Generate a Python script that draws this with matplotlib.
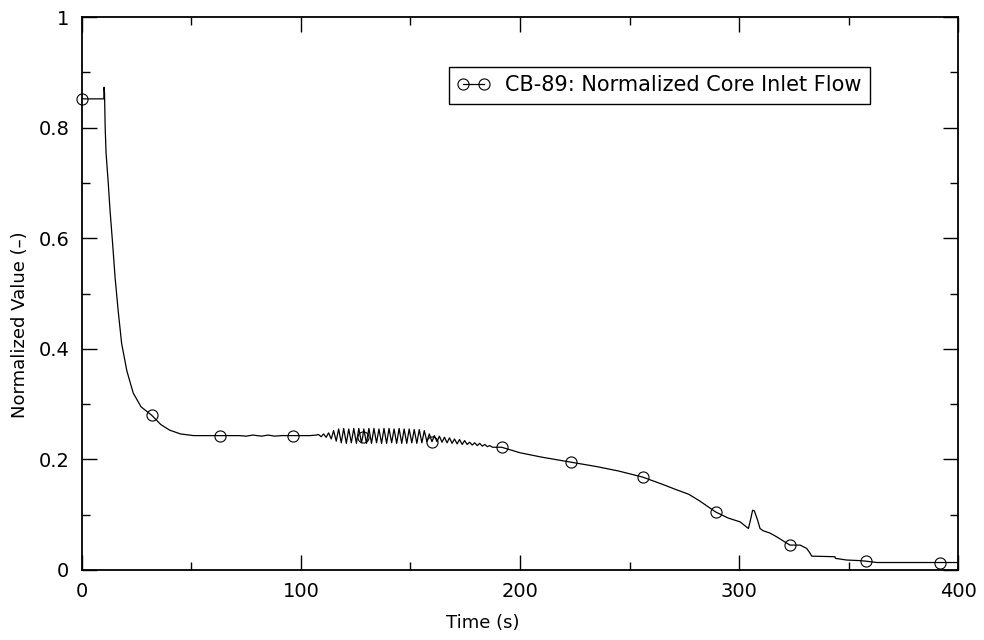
import numpy as np
import matplotlib.pyplot as plt
from matplotlib.ticker import MultipleLocator

# Normalized core inlet flow
# start-up, drop and flat part (s, -)
t_start = [0.0, 9.9, 10.0, 10.1, 10.3, 10.6, 11.0, 12.0, 12.8, 14.0, 15.1, 16.5,
           18.1, 20.5, 23.4, 27.0, 31.8, 36.0, 40.0, 45.0, 51.0, 63.0, 72.0,
           75.0, 78.0, 82.0, 85.0, 88.0, 91.0, 96.2, 100.0, 104.0, 107.0]
y_start = [0.852, 0.852, 0.852, 0.873, 0.862, 0.800, 0.754, 0.700, 0.651, 0.590,
           0.530, 0.470, 0.410, 0.360, 0.320, 0.295, 0.280, 0.263, 0.253, 0.246,
           0.243, 0.243, 0.243, 0.242, 0.244, 0.242, 0.244, 0.242, 0.243, 0.243,
           0.243, 0.243, 0.244]

# oscillating part, peaks and troughs
t_osc = [108.0, 109.2, 110.3, 111.5, 112.6, 113.8, 114.9, 116.1, 117.2, 118.4,
         119.5, 120.7, 121.8, 123.0, 124.1, 125.3, 126.4, 127.6, 128.2, 128.7, 129.9,
         131.0, 132.2, 133.3, 134.5, 135.6, 136.8, 137.9, 139.1, 140.2, 141.4,
         142.5, 143.7, 144.8, 146.0, 147.1, 148.3, 149.4, 150.6, 151.7, 152.9,
         154.0, 155.2, 156.3, 157.5, 158.6, 159.8, 160.9, 162.1, 163.2, 164.4,
         165.5, 166.7, 167.8, 169.0, 170.1, 171.3, 172.4, 173.6, 174.7, 175.9,
         177.0, 178.2, 179.3, 180.5, 181.6, 182.8, 183.9, 185.1, 186.2, 187.4]
y_osc = [0.245, 0.241, 0.246, 0.240, 0.248, 0.237, 0.252, 0.233, 0.255, 0.230,
         0.256, 0.229, 0.255, 0.230, 0.256, 0.229, 0.256, 0.230, 0.241, 0.255, 0.229,
         0.256, 0.229, 0.256, 0.230, 0.255, 0.229, 0.256, 0.229, 0.256, 0.230,
         0.255, 0.229, 0.256, 0.229, 0.255, 0.229, 0.255, 0.230, 0.254, 0.229,
         0.254, 0.230, 0.252, 0.232, 0.246, 0.232, 0.243, 0.232, 0.242, 0.231,
         0.240, 0.230, 0.239, 0.229, 0.237, 0.228, 0.236, 0.227, 0.234, 0.227,
         0.231, 0.226, 0.230, 0.225, 0.229, 0.224, 0.227, 0.223, 0.225, 0.222]

# decline and tail
t_end = [191.6, 200.0, 210.0, 223.3, 235.0, 245.0, 256.0, 265.0, 271.5, 277.0,
         282.0, 289.3, 295.0, 300.5, 304.3, 305.5, 306.2, 307.0, 308.5, 309.6,
         311.0, 314.0, 317.2, 320.0, 323.3, 327.9, 330.9, 332.5, 333.2, 343.8,
         344.0, 349.2, 355.0, 357.8, 363.0, 391.8, 400.0]
y_end = [0.222, 0.212, 0.204, 0.195, 0.187, 0.179, 0.168, 0.155, 0.145, 0.137,
         0.125, 0.105, 0.094, 0.087, 0.075, 0.095, 0.108, 0.107, 0.090, 0.075,
         0.071, 0.067, 0.060, 0.053, 0.045, 0.045, 0.039, 0.030, 0.025, 0.024,
         0.021, 0.018, 0.017, 0.016, 0.0135, 0.0135, 0.0135]

# times where the circle markers sit
marker_times = [0.0, 31.8, 63.0, 96.2, 128.2, 159.8, 191.6, 223.3, 256.0,
                289.3, 323.3, 357.8, 391.8]

label = "CB-89: Normalized Core Inlet Flow"
ytick_labels = ['0', '0.2', '0.4', '0.6', '0.8', '1']

t = np.array(t_start + t_osc + t_end)
y = np.array(y_start + y_osc + y_end)
mark_idx = [int(np.argmin(np.abs(t - mt))) for mt in marker_times]

plt.rcParams['font.family'] = ['DejaVu Sans']
plt.rcParams['font.size'] = 13

fig = plt.figure(figsize=(9.84, 6.4), dpi=100)
ax = fig.add_axes([0.0833, 0.1094, 0.8903, 0.864])

ax.plot(t, y, color='black', linewidth=0.9, marker='o', markersize=8,
        markerfacecolor='none', markeredgewidth=0.8, markevery=mark_idx,
        clip_on=False, label=label)

ax.set_xlim(0, 400)
ax.set_ylim(0, 1)
ax.xaxis.set_major_locator(MultipleLocator(100))
ax.xaxis.set_minor_locator(MultipleLocator(50))
ax.set_yticks(np.arange(0, 1.01, 0.2))
ax.set_yticklabels(ytick_labels)
ax.yaxis.set_minor_locator(MultipleLocator(0.1))
ax.tick_params(which='both', direction='in', top=True, right=True, width=1,
               labelsize=14)
ax.tick_params(which='major', length=11, pad=9)
ax.tick_params(which='minor', length=6)
for s in ax.spines.values():
    s.set_linewidth(1.3)

ax.set_xlabel("Time (s)")
ax.set_ylabel("Normalized Value (\u2013)")
ax.xaxis.set_label_coords(0.458, -0.079)
ax.yaxis.set_label_coords(-0.061, 0.443)

leg = ax.legend(loc='upper right', bbox_to_anchor=(0.8995, 0.9096), numpoints=2,
                fancybox=False, edgecolor='black', framealpha=1,
                handlelength=1.6, handletextpad=0.7, borderpad=0.4,
                borderaxespad=0, fontsize=15)
leg.get_frame().set_linewidth(1.0)

fig.savefig("out.png", dpi=100)
